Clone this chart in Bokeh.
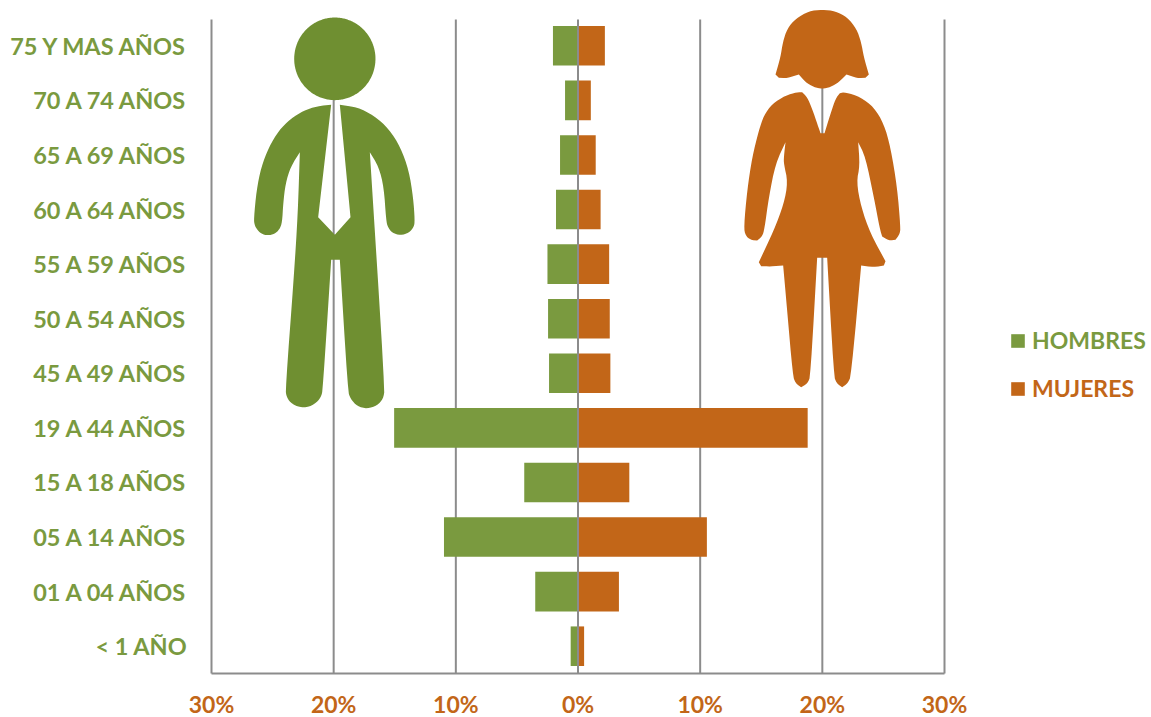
from bokeh.plotting import figure
from bokeh.models import Range1d, Legend, LegendItem, PolyAnnotation, FixedTicker
from bokeh.embed import file_html
from bokeh.resources import INLINE
import numpy as np

categories = ["< 1 AÑO", "01 A 04 AÑOS", "05 A 14 AÑOS", "15 A 18 AÑOS", "19 A 44 AÑOS", "45 A 49 AÑOS",
              "50 A 54 AÑOS", "55 A 59 AÑOS", "60 A 64 AÑOS", "65 A 69 AÑOS", "70 A 74 AÑOS", "75 Y MAS AÑOS"]
hombres = [0.6, 3.5, 10.97, 4.4, 15.05, 2.37, 2.45, 2.5, 1.8, 1.47, 1.06, 2.05]
mujeres = [0.5, 3.35, 10.55, 4.2, 18.8, 2.65, 2.6, 2.55, 1.85, 1.45, 1.05, 2.2]
x_ticks = [-30, -20, -10, 0, 10, 20, 30]
x_tick_labels = ["30%", "20%", "10%", "0%", "10%", "20%", "30%"]

GREEN, ORANGE = "#7A9A3F", "#C26618"
ICON_GREEN, ICON_ORANGE = "#6F8F31", "#C26617"
GRID = "#8C8C8C"
FONT = "Lato"

W, H = 1151, 717
LEFT, RIGHT, TOP, BOTTOM, FRAME_TOP = 211, 944, 18, 673, 4   # axes box, in page pixels
px_per_x = (RIGHT - LEFT) / 60
px_per_y = (BOTTOM - TOP) / 12
pos = list(range(len(categories)))

p = figure(width=W, height=H, output_backend="svg", toolbar_location=None,
           x_range=Range1d(-30 - LEFT / px_per_x, -30 + (W - LEFT) / px_per_x),
           y_range=Range1d(-0.5 - (H - BOTTOM) / px_per_y, 11.5 + (TOP - FRAME_TOP) / px_per_y),
           min_border_left=0, min_border_right=0, min_border_top=FRAME_TOP, min_border_bottom=0)
p.outline_line_color = None
p.background_fill_alpha = 0
p.grid.visible = False

xa = p.xaxis[0]
xa.ticker = FixedTicker(ticks=x_ticks)
xa.major_label_overrides = dict(zip(x_ticks, x_tick_labels))
xa.bounds = (-30, 30)
xa.fixed_location = -0.5
xa.axis_line_color = GRID
xa.axis_line_width = 2
xa.major_tick_line_color = None
xa.minor_tick_line_color = None
xa.major_tick_out = 0
xa.major_label_text_color = ORANGE
xa.major_label_text_font = FONT
xa.major_label_text_font_style = "bold"
xa.major_label_text_font_size = "23px"
xa.major_label_standoff = 16

ya = p.yaxis[0]
ya.ticker = FixedTicker(ticks=pos)
ya.major_label_overrides = dict(zip(pos, categories))
ya.bounds = (-0.5, 11.5)
ya.fixed_location = -30
ya.axis_line_color = None
ya.major_tick_line_color = None
ya.minor_tick_line_color = None
ya.major_tick_out = 0
ya.major_label_text_color = GREEN
ya.major_label_text_font = FONT
ya.major_label_text_font_style = "bold"
ya.major_label_text_font_size = "23.5px"
ya.major_label_standoff = 24

side_ticks = [t for t in x_ticks if t != 0]
p.segment(x0=side_ticks, x1=side_ticks, y0=-0.5, y1=11.48, line_color=GRID, line_width=2)
r_h = p.hbar(y=pos, right=[-v for v in hombres], left=0, height=0.725, color=GREEN, line_color=None)
r_m = p.hbar(y=pos, right=mujeres, left=0, height=0.725, color=ORANGE, line_color=None)
p.segment(x0=[0], x1=[0], y0=-0.5, y1=11.48, line_color=GRID, line_width=2)

for label, rend, color, bottom in [("HOMBRES", r_h, GREEN, 354), ("MUJERES", r_m, ORANGE, 402)]:
    leg = Legend(items=[LegendItem(label=label, renderers=[rend])], location=(1009, H - bottom),
                 glyph_width=17, glyph_height=17, label_standoff=6, padding=0, margin=0,
                 background_fill_alpha=0, border_line_color=None,
                 label_text_color=color, label_text_font=FONT, label_text_font_style="bold",
                 label_text_font_size="23px", label_height=28)
    p.add_layout(leg, "center")

# Pictograms, outlined from the reference (3x crop coordinates)
def smooth(a, rounds=2, limit=40):
    for _ in range(rounds):
        out = []
        n = len(a)
        for i in range(n):
            P, A, B = a[i], a[i - 1], a[(i + 1) % n]
            u, v = P - A, B - P
            cos = np.dot(u, v) / (np.linalg.norm(u) * np.linalg.norm(v))
            if np.degrees(np.arccos(np.clip(cos, -1, 1))) > limit:
                out.append(P)
            else:
                out += [P + 0.25 * (A - P), P + 0.25 * (B - P)]
        a = np.array(out)
    return a

def icon(points, ox, color):
    a = smooth(np.array(points, dtype=float))
    p.add_layout(PolyAnnotation(xs=list(a[:, 0] / 3 + ox), ys=list(a[:, 1] / 3),
                                xs_units="canvas", ys_units="canvas",
                                fill_color=color, fill_alpha=1, line_color=None, level="annotation"))

t = np.linspace(0, 2 * np.pi, 72, endpoint=False)
icon(np.c_[283 + 122 * np.cos(t), 175 + 124 * np.sin(t)], 240, ICON_GREEN)
icon([(272,313),(230,317),(190,330),(150,355),(115,390),(85,440),(62,500),(48,570),(40,655),(42,672),(48,685),(62,700),
      (82,705),(102,700),(117,687),(125,665),(128,610),(135,550),(150,500),(178,455),(172,640),(160,830),(135,1165),
      (138,1190),(155,1212),(190,1223),(222,1212),(242,1190),(247,1165),(272,778),(298,778),(322,1170),(330,1195),
      (350,1217),(380,1225),(410,1215),(428,1195),(433,1165),(388,455),(415,500),(430,560),(437,660),(442,680),
      (455,697),(480,705),(505,697),(520,680),(523,660),(518,590),(505,510),(480,440),(445,385),(400,345),(350,320),
      (298,313),(330,650),(283,703),(233,650)], 240, ICON_GREEN)
icon([(275,27),(235,32),(195,55),(170,85),(157,125),(150,170),(135,222),(145,232),(170,233),(205,222),(225,245),
      (250,260),(275,265),(300,260),(325,245),(348,222),(380,233),(405,232),(415,222),(400,170),(392,125),(378,85),
      (350,50),(315,32)], 730, ICON_ORANGE)
icon([(270,398),(262,375),(245,325),(230,290),(215,275),(200,275),(165,285),(125,310),(100,345),(85,390),(65,470),
      (50,570),(40,680),(45,705),(60,718),(80,720),(95,708),(102,685),(115,590),(135,490),(165,425),(160,470),(160,490),
      (172,545),(160,610),(130,690),(85,785),(92,797),(120,798),(158,795),(170,930),(187,1125),(195,1148),(212,1160),
      (232,1148),(240,1125),(260,772),(290,772),(310,1125),(318,1148),(335,1160),(352,1148),(362,1125),(392,795),
      (430,800),(460,795),(465,782),(420,700),(392,620),(378,545),(388,495),(383,425),(405,470),(430,590),(448,685),
      (455,708),(475,720),(495,718),(508,700),(510,680),(500,560),(480,440),(460,370),(430,320),(390,290),(345,275),
      (328,278),(315,295),(300,340),(282,398)], 730, ICON_ORANGE)

open("out.html", "w").write(file_html(p, INLINE))
